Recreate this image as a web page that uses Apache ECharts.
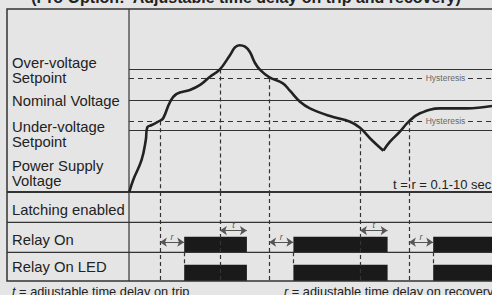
<!DOCTYPE html>
<html>
<head>
<meta charset="utf-8">
<script src="https://cdn.jsdelivr.net/npm/echarts@6/dist/echarts.min.js"></script>
<style>
  html, body { margin: 0; padding: 0; background: #e5e5e5; }
  #chart { width: 492px; height: 295px; }
</style>
</head>
<body>
<div id="chart"></div>
<script>
// supply voltage curve, split at the dip so the V stays sharp
const curveTimeA = [0.1, 1.4, 4.2, 5.6, 6.1, 7.6, 10.1, 11.4, 13.7, 15.9, 20.3, 23.7, 27, 30.3, 33.7, 35.3, 36.8, 38.7, 40.3, 42, 43.7, 46.7, 51.3, 53.7, 57, 60.3, 67, 73.7, 77, 80.9, 84.8];
const curveVoltA = [0, 6.6, 17.5, 28.4, 35.4, 36.6, 38.8, 40.3, 49.3, 53.6, 55.7, 58.5, 63, 67, 74.9, 79, 80.2, 79.4, 76.5, 70.5, 66.7, 62.8, 59.4, 55.2, 49.3, 45.7, 41.5, 38.4, 35.1, 28.4, 22.6];
const curveTimeB = [84.8, 87, 90.3, 93.3, 97, 103.7, 112.6, 121];
const curveVoltB = [22.6, 27.5, 33, 38.6, 43, 45.7, 45.7, 47];

// voltage levels
const overSetpoint = 67;
const overHysteresis = 62.1;
const nominalVoltage = 50.1;
const underHysteresis = 38.6;
const underSetpoint = 33.7;

// where the "Hysteresis" note sits on the dashed lines
const hysteresisNoteAt = 105.5;
const hysteresisGap = [98, 113];

// threshold crossings (time, level where the dashed marker starts)
const crossTimes = [10.3, 30.3, 46.7, 77, 93.3];
const crossLevels = [38.6, 67, 62.1, 33.7, 38.6];

// relay on periods
const relayStart = [18.4, 54.8, 101.4];
const relayEnd = [39.3, 86.2, 121];
const recoverFrom = [10.3, 46.7, 93.3];
const tripFrom = [30.3, 77];
const tripTo = [39.3, 86.2];

const rowLabels = ['Latching enabled', 'Relay On', 'Relay On LED'];

const font = "'Liberation Sans', Arial, Helvetica, sans-serif";
const ink = '#222';
const bg = '#e5e5e5';

const chart = echarts.init(document.getElementById('chart'), null, { renderer: 'svg' });

const dashStyle = { type: [4, 3], width: 1.2, color: '#333' };

const curveA = curveTimeA.map((t, i) => [t, curveVoltA[i]]);
const curveB = curveTimeB.map((t, i) => [t, curveVoltB[i]]);

// dashed hysteresis lines, broken where the note is written
const hysLines = [];
[overHysteresis, underHysteresis].forEach(v => {
  hysLines.push([{ coord: [0, v] }, { coord: [hysteresisGap[0], v] }]);
  hysLines.push([{ coord: [hysteresisGap[1], v] }, { coord: [121, v] }]);
});

const vLinesTop = crossTimes.map((t, i) => [{ coord: [t, crossLevels[i]] }, { coord: [t, 0] }]);
const vLinesBottom = crossTimes.map(t => [{ coord: [t, 3] }, { coord: [t, 0] }]);

const relayAreas = [];
relayStart.forEach((s, i) => {
  relayAreas.push([{ coord: [s, 0.97] }, { coord: [relayEnd[i], 1.49] }]);
  relayAreas.push([{ coord: [s, 0] }, { coord: [relayEnd[i], 0.55] }]);
});
const ledTicks = relayStart.map(s => [{ coord: [s, 0.97] }, { coord: [s, 0.55] }]);

const arrows = [];
recoverFrom.forEach((t, i) => {
  arrows.push([{ coord: [t, 1.31], label: { formatter: 'r' } }, { coord: [relayStart[i], 1.31] }]);
});
tripFrom.forEach((t, i) => {
  arrows.push([{ coord: [t, 1.70], label: { formatter: 't' } }, { coord: [tripTo[i], 1.70] }]);
});

function txt(text, x, y, size, extra) {
  return {
    type: 'text', z: 10,
    style: Object.assign({
      text: text, x: x, y: y, fill: ink,
      font: size + 'px ' + font,
      verticalAlign: 'middle', lineHeight: 15
    }, extra || {})
  };
}
function hline(y, w) {
  return { type: 'line', z: 5, shape: { x1: 7, y1: y, x2: 520, y2: y }, style: { stroke: '#333', lineWidth: w } };
}
const italic = { i: { font: 'italic 12.8px ' + font } };

const option = {
  backgroundColor: bg,
  animation: false,
  grid: [
    { left: 129, top: 9, right: 0, height: 183 },
    { left: 129, top: 192, right: 0, height: 89 }
  ],
  xAxis: [
    { type: 'value', gridIndex: 0, min: 0, max: 121, show: false },
    { type: 'value', gridIndex: 1, min: 0, max: 121, show: false }
  ],
  yAxis: [
    { type: 'value', gridIndex: 0, min: 0, max: 100, show: false },
    { type: 'value', gridIndex: 1, min: 0, max: 3, show: false }
  ],
  graphic: [
    { type: 'rect', z: 5, shape: { x: 7, y: 9, width: 520, height: 272 }, style: { fill: 'none', stroke: '#333', lineWidth: 1.5 } },
    { type: 'line', z: 5, shape: { x1: 129, y1: 9, x2: 129, y2: 281 }, style: { stroke: '#333', lineWidth: 1.2 } },
    hline(192, 2),
    hline(222.3, 1.2),
    hline(252.3, 1.2),
    txt('(Pro Option:  Adjustable time delay on trip and recovery)', 246, 5, 16, { font: 'bold 16px ' + font, align: 'center', verticalAlign: 'bottom' }),
    txt('Over-voltage\nSetpoint', 12, 70.5, 14.8),
    txt('Nominal Voltage', 12, 101, 14.8),
    txt('Under-voltage\nSetpoint', 12, 134.5, 14.8),
    txt('Power Supply\nVoltage', 12, 173.5, 14.8),
    txt(rowLabels[0], 12, 210, 14.8),
    txt(rowLabels[1], 12, 240, 14.8),
    txt(rowLabels[2], 12, 266.7, 14.8),
    txt('t = r = 0.1-10 sec', 393, 184, 13),
    txt('{i|t} = adjustable time delay on trip', 12, 291, 12.8, { rich: italic }),
    txt('{i|r} = adjustable time delay on recovery', 284, 291, 12.8, { rich: italic })
  ],
  series: [
    {
      type: 'line', xAxisIndex: 0, yAxisIndex: 0, data: [], silent: true,
      markLine: {
        silent: true, symbol: 'none', label: { show: false },
        lineStyle: { color: '#333', width: 1.2, type: 'solid' },
        data: [{ yAxis: overSetpoint }, { yAxis: nominalVoltage }, { yAxis: underSetpoint }]
      }
    },
    {
      type: 'line', xAxisIndex: 0, yAxisIndex: 0, data: [], silent: true,
      markLine: {
        silent: true, symbol: 'none', label: { show: false },
        lineStyle: { color: '#333', width: 1.2, type: [5, 4] },
        data: hysLines
      }
    },
    {
      type: 'line', xAxisIndex: 0, yAxisIndex: 0, data: [], silent: true,
      markLine: { silent: true, symbol: 'none', label: { show: false }, lineStyle: dashStyle, data: vLinesTop }
    },
    {
      type: 'scatter', xAxisIndex: 0, yAxisIndex: 0, symbolSize: 0, silent: true, z: 4,
      itemStyle: { color: '#555' },
      data: [[hysteresisNoteAt, overHysteresis], [hysteresisNoteAt, underHysteresis]],
      label: {
        show: true, position: 'inside', formatter: 'Hysteresis',
        fontSize: 8.5, fontFamily: font, color: '#444',
        textBorderWidth: 0, textBorderColor: 'transparent'
      }
    },
    {
      type: 'line', xAxisIndex: 0, yAxisIndex: 0, data: curveA, smooth: 0.4,
      showSymbol: false, silent: true, z: 6,
      lineStyle: { color: ink, width: 2.6 }
    },
    {
      type: 'line', xAxisIndex: 0, yAxisIndex: 0, data: curveB, smooth: 0.4,
      showSymbol: false, silent: true, z: 6,
      lineStyle: { color: ink, width: 2.6 }
    },
    {
      type: 'line', xAxisIndex: 1, yAxisIndex: 1, data: [], silent: true,
      markArea: { silent: true, itemStyle: { color: '#1a1a1a', opacity: 1 }, data: relayAreas },
      markLine: { silent: true, symbol: 'none', label: { show: false }, lineStyle: dashStyle, data: vLinesBottom.concat(ledTicks) }
    },
    {
      type: 'line', xAxisIndex: 1, yAxisIndex: 1, data: [], silent: true,
      markLine: {
        silent: true, symbol: ['arrow', 'arrow'], symbolSize: 7,
        lineStyle: { color: '#555', width: 1, type: 'solid' },
        label: { show: true, position: 'middle', fontSize: 9, fontStyle: 'italic', color: '#555', distance: 1 },
        data: arrows
      }
    }
  ]
};

chart.setOption(option);
</script>
</body>
</html>
